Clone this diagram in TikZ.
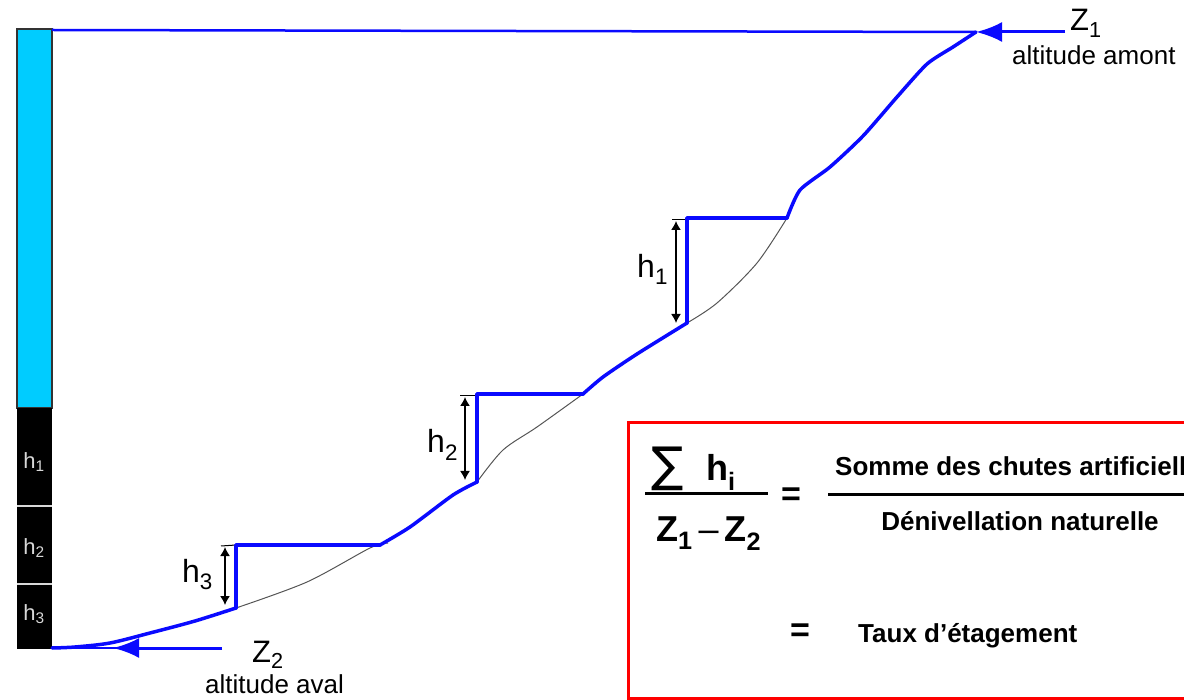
\documentclass[tikz,border=0pt]{standalone}
\usepackage{fontspec}
\setmainfont{Liberation Sans}
\newfontfamily\symbfont{DejaVu Sans}
\usetikzlibrary{arrows.meta,calc}
\definecolor{water}{HTML}{00CCFF}
\definecolor{flow}{HTML}{0A0AFF}
\definecolor{ground}{HTML}{555555}
\definecolor{frame}{HTML}{FF0000}
\definecolor{ink}{HTML}{000000}
\definecolor{pale}{HTML}{D8D8D8}
\tikzset{
  >=Latex,
  every node/.style={text=ink,inner sep=0pt},
  riverline/.style={draw=flow,line width=3.5pt,line join=round,line cap=round},
  levelline/.style={draw=flow,line width=2.5pt},
  groundline/.style={draw=ground,line width=1pt},
  dimarrow/.style={<->,draw=ink,line width=1.4pt,>={Latex[length=9pt,width=10pt]}},
  tickline/.style={draw=ink,line width=1pt},
  zarrow/.style={->,draw=flow,line width=3pt,>={Latex[length=26pt,width=20pt]}},
  hlabel/.style={font=\fontsize{32}{34}\selectfont,anchor=base west},
  barlabel/.style={font=\fontsize{22}{24}\selectfont,text=pale},
  zlabel/.style={font=\fontsize{31}{33}\selectfont,anchor=base west},
  altlabel/.style={font=\fontsize{26}{28}\selectfont,anchor=base west},
  formula/.style={font=\bfseries\fontsize{26}{28}\selectfont,anchor=base west},
  bigeq/.style={font=\bfseries\fontsize{34}{36}\selectfont},
  cadre/.style={draw=frame,line width=3pt,anchor=north west,minimum width=620pt,minimum height=276pt},
}

\begin{document}
\begin{tikzpicture}[x=1pt,y=-1pt]
\useasboundingbox (0,0) rectangle (1184,700);
\clip (0,0) rectangle (1184,700);

% gauge bar on the left
\fill[water,draw=ink!80,line width=1.5pt] (17,29) rectangle (52,408);
\fill[ink] (17,408) rectangle (52,649);
\draw[pale,line width=2pt] (17,506) -- (52,506) (17,584) -- (52,584);
\node[barlabel] (bh1) at (34,462) {h\textsubscript{1}};
\node[barlabel] (bh2) at (34,548) {h\textsubscript{2}};
\node[barlabel] (bh3) at (34,614) {h\textsubscript{3}};

% profile points
\coordinate (bartop) at (52,30);
\coordinate (top) at (976,32);
\coordinate (s1r) at (787,218);
\coordinate (s1l) at (687,218);
\coordinate (s1b) at (687,323);
\coordinate (s2r) at (583,394);
\coordinate (s2l) at (477,394);
\coordinate (s2b) at (477,482);
\coordinate (s3r) at (380,545);
\coordinate (s3l) at (236,545);
\coordinate (s3b) at (236,608);
\coordinate (low) at (52,648);
\coordinate (z1tail) at (1065,32);
\coordinate (z2tail) at (222,648);
\coordinate (z2tip) at (113,648);

% natural ground under the steps
\draw[groundline] plot[smooth] coordinates {(s1b) (717,303) (757,263) (s1r)};
\draw[groundline] plot[smooth] coordinates {(s2b) (503,450) (537,427) (s2r)};
\draw[groundline] plot[smooth] coordinates {(s3b) (307,582) (370,548) (388,543)};
\draw[tickline] ($(s1l)+(-15,2)$) -- ($(s1r)+(0,2)$);
\draw[tickline] ($(s2l)+(-17,2)$) -- ($(s2r)+(0,2)$);
\draw[tickline] ($(s3l)+(-15,1)$) -- (s3l);

% levels
\draw[levelline] (bartop) -- (top);
\draw[levelline] (low) -- (z2tail);

% river profile with the three steps
\draw[riverline] plot[smooth,tension=0.4] coordinates {(s1r) (800,190) (830,167) (863,136) (897,97) (927,64) (953,47) (top)};
\draw[riverline] (s1r) -- (s1l) -- (s1b);
\draw[riverline] plot[smooth,tension=0.4] coordinates {(s2r) (603,377) (637,354) (s1b)};
\draw[riverline] (s2r) -- (s2l) -- (s2b);
\draw[riverline] plot[smooth,tension=0.4] coordinates {(s3r) (410,527) (453,495) (s2b)};
\draw[riverline] (s3r) -- (s3l) -- (s3b);
\draw[riverline] plot[smooth,tension=0.5] coordinates {(s3b) (195,621) (150,633) (110,643) (75,647) (low)};

% heights of the falls
\draw[dimarrow] ($(s1l)+(-11,3)$) -- ($(s1b)+(-11,0)$);
\draw[dimarrow] ($(s2l)+(-12,3)$) -- ($(s2b)+(-12,-2)$);
\draw[dimarrow] ($(s3l)+(-11,2)$) -- ($(s3b)+(-11,-3)$);
\node[hlabel] (h1) at (637,278) {h\textsubscript{1}};
\node[hlabel] (h2) at (427,453) {h\textsubscript{2}};
\node[hlabel] (h3) at (182,582) {h\textsubscript{3}};

% upstream / downstream altitudes
\draw[zarrow] (z1tail) -- (top);
\node[zlabel] (z1) at (1070,31) {Z\textsubscript{1}};
\node[altlabel] (amont) at (1012,65) {altitude amont};
\draw[zarrow] (z2tail) -- (z2tip);
\node[zlabel] (z2) at (252,662) {Z\textsubscript{2}};
\node[altlabel] (aval) at (205,693) {altitude aval};

% formula box
\node[cadre] (taux) at (627,421) {};
\node[anchor=base west,font=\symbfont\fontsize{48}{50}\selectfont] (sigma) at (651,482) {∑};
\node[formula,font=\bfseries\fontsize{36}{38}\selectfont] (hi) at (706,481) {h\textsubscript{i}};
\draw[line width=3pt] (645,494) -- (768,494);
\node[formula,font=\bfseries\fontsize{36}{38}\selectfont] (zdiff) at (656,541) {Z\textsubscript{1}\,{\mdseries –}\,Z\textsubscript{2}};
\node[bigeq] (eq1) at (791,497) {=};
\node[formula] (somme) at (835,476) {Somme des chutes artificielles};
\draw[line width=3pt] (828,495) -- (1190,495);
\node[formula,anchor=base] (deniv) at (1020,530) {Dénivellation naturelle};
\node[bigeq] (eq2) at (800,633) {=};
\node[formula] (etage) at (858,642) {Taux d’étagement};
\end{tikzpicture}
\end{document}
